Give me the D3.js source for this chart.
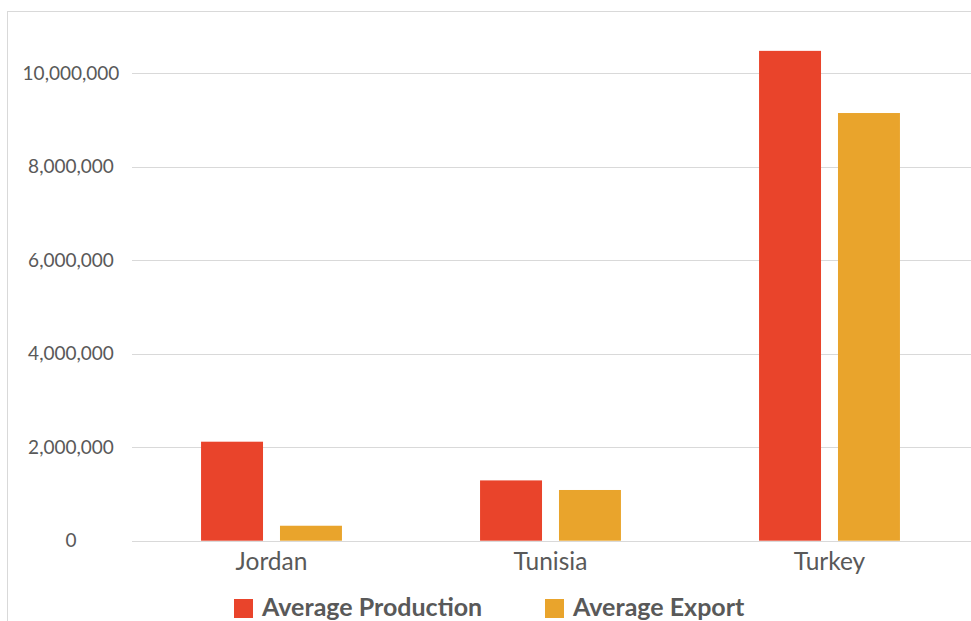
<!DOCTYPE html>
<html>
<head>
<meta charset="utf-8">
<script src="https://cdn.jsdelivr.net/npm/d3@7"></script>
<style>
  body { margin: 0; background: #fff; }
  svg { display: block; font-family: Lato, "Open Sans", sans-serif; }
  .tick-label { fill: #595959; font-size: 19px; }
  .cat-label { fill: #595959; font-size: 24.5px; }
  .legend-label { fill: #595959; font-size: 25px; font-weight: bold; }
</style>
</head>
<body>
<div id="wrapper"></div>
<script>
// data
const countries = ["Jordan", "Tunisia", "Turkey"]
const seriesNames = ["Average Production", "Average Export"]
const production = [2118000, 1290000, 10480000]
const exportValues = [320000, 1085000, 9150000]
const yTicks = [0, 2000000, 4000000, 6000000, 8000000, 10000000]
const colors = ["#E9442B", "#E9A42C"]

function drawBars() {
  const dimensions = {
    width: 971,
    height: 621,
    plotLeft: 132,
    plotRight: 969,
    plotTop: 73.3,
    plotBottom: 540.7,
  }

  const dataset = countries.map((c, i) => ({
    country: c,
    values: [production[i], exportValues[i]],
  }))

  const wrapper = d3.select("#wrapper")
    .append("svg")
      .attr("width", dimensions.width)
      .attr("height", dimensions.height)

  // outer chart frame, runs off the right and bottom edge
  wrapper.append("rect")
      .attr("x", 7.5)
      .attr("y", 11.5)
      .attr("width", 1000)
      .attr("height", 700)
      .attr("fill", "none")
      .attr("stroke", "#d9d9d9")

  // scales
  const xScale = d3.scaleBand()
    .domain(countries)
    .range([dimensions.plotLeft, dimensions.plotRight])
    .paddingInner(0.495)
    .paddingOuter(0.2475)

  const xSeries = d3.scaleBand()
    .domain(d3.range(seriesNames.length))
    .range([0, xScale.bandwidth()])
    .paddingInner(0.215)

  const yScale = d3.scaleLinear()
    .domain([0, 10000000])
    .range([dimensions.plotBottom, dimensions.plotTop])

  // gridlines
  wrapper.append("g")
    .selectAll("line")
    .data(yTicks)
    .join("line")
      .attr("x1", dimensions.plotLeft)
      .attr("x2", dimensions.plotRight + 2)
      .attr("y1", d => Math.round(yScale(d)) + 0.5)
      .attr("y2", d => Math.round(yScale(d)) + 0.5)
      .attr("stroke", "#d9d9d9")
      .attr("stroke-width", 1.2)

  // y tick labels
  const fmt = d3.format(",")
  wrapper.append("g")
    .selectAll("text")
    .data(yTicks)
    .join("text")
      .attr("class", "tick-label")
      .attr("x", 71)
      .attr("y", d => yScale(d))
      .attr("dy", "0.35em")
      .attr("text-anchor", "middle")
      .text(d => fmt(d))

  // bars
  const groups = wrapper.append("g")
    .selectAll("g")
    .data(dataset)
    .join("g")
      .attr("transform", d => `translate(${xScale(d.country)},0)`)

  groups.selectAll("rect")
    .data(d => d.values.map((v, i) => ({ i, v })))
    .join("rect")
      .attr("x", d => xSeries(d.i))
      .attr("width", xSeries.bandwidth())
      .attr("y", d => yScale(d.v))
      .attr("height", d => yScale(0) - yScale(d.v))
      .attr("fill", d => colors[d.i])

  // category labels
  wrapper.append("g")
    .selectAll("text")
    .data(countries)
    .join("text")
      .attr("class", "cat-label")
      .attr("x", d => xScale(d) + xScale.bandwidth() / 2)
      .attr("y", 570)
      .attr("text-anchor", "middle")
      .text(d => d)

  // legend
  const legendX = [234, 545]
  const legend = wrapper.append("g")
    .selectAll("g")
    .data(seriesNames)
    .join("g")
      .attr("transform", (d, i) => `translate(${legendX[i]},599)`)

  legend.append("rect")
      .attr("width", 19)
      .attr("height", 19)
      .attr("fill", (d, i) => colors[i])

  legend.append("text")
      .attr("class", "legend-label")
      .attr("x", 28)
      .attr("y", 17)
      .text(d => d)
}
drawBars()
</script>
</body>
</html>
